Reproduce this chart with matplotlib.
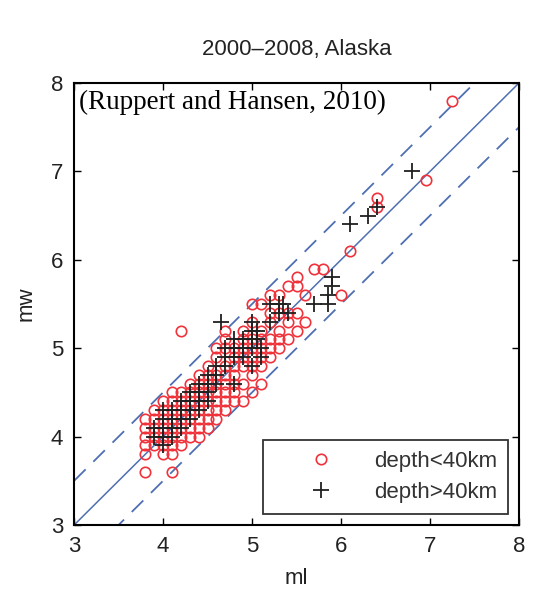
import numpy as np
import matplotlib
matplotlib.use('Agg')
import matplotlib.pyplot as plt

plt.rcParams['font.family'] = ['Liberation Sans', 'DejaVu Sans']

# Shallow events (depth < 40 km): ml, mw
shallow_ml = [3.8, 3.8, 3.8, 3.8, 3.8, 3.8,
              3.9, 3.9, 3.9, 3.9, 3.9,
              4.0, 4.0, 4.0, 4.0, 4.0, 4.0, 4.0,
              4.1, 4.1, 4.1, 4.1, 4.1, 4.1, 4.1, 4.1, 4.1,
              4.2, 4.2, 4.2, 4.2, 4.2, 4.2, 4.2, 4.2,
              4.3, 4.3, 4.3, 4.3, 4.3, 4.3, 4.3,
              4.4, 4.4, 4.4, 4.4, 4.4, 4.4, 4.4, 4.4,
              4.5, 4.5, 4.5, 4.5, 4.5, 4.5, 4.5, 4.5,
              4.6, 4.6, 4.6, 4.6, 4.6, 4.6, 4.6, 4.6,
              4.7, 4.7, 4.7, 4.7, 4.7, 4.7, 4.7, 4.7, 4.7,
              4.8, 4.8, 4.8, 4.8, 4.8, 4.8, 4.8,
              4.9, 4.9, 4.9, 4.9, 4.9, 4.9, 4.9,
              5.0, 5.0, 5.0, 5.0, 5.0, 5.0, 5.0, 5.0,
              5.1, 5.1, 5.1, 5.1, 5.1, 5.1, 5.1,
              5.2, 5.2, 5.2, 5.2, 5.2, 5.2,
              5.3, 5.3, 5.3, 5.3, 5.3,
              5.4, 5.4, 5.4, 5.4,
              5.5, 5.5, 5.5, 5.5,
              5.6, 5.6, 5.7, 5.8, 6.0, 6.1, 6.4, 6.4, 6.95, 7.25]
shallow_mw = [3.6, 3.8, 3.9, 4.0, 4.1, 4.2,
              3.9, 4.0, 4.1, 4.2, 4.3,
              3.8, 3.9, 4.0, 4.1, 4.2, 4.3, 4.4,
              3.6, 3.8, 3.9, 4.0, 4.1, 4.2, 4.3, 4.4, 4.5,
              3.9, 4.0, 4.1, 4.2, 4.3, 4.4, 4.5, 5.2,
              4.0, 4.1, 4.2, 4.3, 4.4, 4.5, 4.6,
              4.0, 4.1, 4.2, 4.3, 4.4, 4.5, 4.6, 4.7,
              4.1, 4.2, 4.3, 4.4, 4.5, 4.6, 4.7, 4.8,
              4.2, 4.3, 4.4, 4.5, 4.6, 4.7, 4.9, 5.0,
              4.3, 4.4, 4.5, 4.6, 4.7, 4.8, 5.0, 5.1, 5.2,
              4.4, 4.5, 4.6, 4.7, 4.8, 4.9, 5.0,
              4.4, 4.6, 4.8, 4.9, 5.0, 5.1, 5.2,
              4.5, 4.7, 4.8, 4.9, 5.0, 5.1, 5.3, 5.5,
              4.6, 4.8, 4.9, 5.0, 5.1, 5.2, 5.5,
              4.9, 5.0, 5.1, 5.3, 5.4, 5.6,
              5.0, 5.1, 5.2, 5.4, 5.6,
              5.1, 5.3, 5.4, 5.7,
              5.2, 5.4, 5.7, 5.8,
              5.3, 5.6, 5.9, 5.9, 5.6, 6.1, 6.6, 6.7, 6.9, 7.8]

# Deep events (depth > 40 km): ml, mw
deep_ml = [3.9, 3.9,
           4.0, 4.0, 4.0, 4.0, 4.0,
           4.1, 4.1, 4.1, 4.1,
           4.2, 4.2, 4.2, 4.2,
           4.3, 4.3, 4.3, 4.3,
           4.4, 4.4, 4.4, 4.4,
           4.5, 4.5, 4.5, 4.5,
           4.6, 4.6, 4.6, 4.65,
           4.7, 4.7, 4.7,
           4.8, 4.8, 4.8, 4.8,
           4.9, 4.9, 4.9,
           5.0, 5.0, 5.0, 5.0, 5.0,
           5.05, 5.05, 5.1, 5.1,
           5.2, 5.2, 5.3, 5.3, 5.35, 5.4,
           5.7, 5.85, 5.85, 5.9, 5.9,
           6.1, 6.3, 6.4, 6.8]
deep_mw = [4.0, 4.1,
           3.9, 4.0, 4.1, 4.2, 4.3,
           4.0, 4.1, 4.2, 4.3,
           4.1, 4.2, 4.3, 4.4,
           4.2, 4.3, 4.4, 4.5,
           4.3, 4.4, 4.5, 4.6,
           4.4, 4.5, 4.6, 4.7,
           4.6, 4.7, 4.8, 5.3,
           4.8, 4.9, 5.0,
           4.6, 4.9, 5.0, 5.1,
           4.9, 5.0, 5.1,
           4.8, 5.0, 5.1, 5.2, 5.3,
           5.1, 5.2, 4.9, 5.0,
           5.3, 5.5, 5.4, 5.5, 5.5, 5.4,
           5.5, 5.5, 5.6, 5.7, 5.8,
           6.4, 6.5, 6.6, 7.0]

axis_range = [3, 8]
ticks = [3, 4, 5, 6, 7, 8]
band = 0.5

fig = plt.figure(figsize=(5.53, 6.08), dpi=100)
ax = fig.add_axes([0.134, 0.1365, 0.8045, 0.727])

# 1:1 line and +/- 0.5 band
line_blue = '#4f6fb3'
xx = np.array(axis_range, dtype=float)
ax.plot(xx, xx, color=line_blue, lw=1.1, zorder=1)
ax.plot(xx, xx + band, color=line_blue, lw=1.3, ls=(0, (9, 6)), zorder=1)
ax.plot(xx, xx - band, color=line_blue, lw=1.3, ls=(0, (9, 6)), zorder=1)

ax.plot(shallow_ml, shallow_mw, 'o', mfc='none', mec='#f0323a', mew=1.2,
        ms=7.5, ls='none', label='depth<40km', zorder=2)
ax.plot(deep_ml, deep_mw, '+', color='#202020', mew=1.3, ms=11,
        ls='none', label='depth>40km', zorder=3)

ax.set_xlim(axis_range)
ax.set_ylim(axis_range)
ax.set_xticks(ticks)
ax.set_yticks(ticks)
ax.tick_params(direction='in', top=True, right=True, length=5, width=1,
               labelsize=16, pad=8, labelcolor='#222222')
for sp in ax.spines.values():
    sp.set_linewidth(1.5)

ax.set_xlabel('ml', fontsize=16, labelpad=8, color='#222222')
ax.set_ylabel('mw', fontsize=16, labelpad=10, color='#222222')
ax.set_title('2000\u20132008, Alaska', fontsize=16, pad=20, color='#222222')

ax.text(0.012, 0.985, '(Ruppert and Hansen, 2010)', transform=ax.transAxes,
        family='Liberation Serif', fontsize=19.5, va='top', ha='left')

leg = ax.legend(loc='lower right', fontsize=16, frameon=True, fancybox=False,
                edgecolor='black', borderpad=0.5, labelspacing=0.45,
                handletextpad=0.2, handlelength=4.3, borderaxespad=0.5,
                labelcolor='#333333')
leg.get_frame().set_linewidth(1.3)

fig.savefig('out.png', dpi=100)
